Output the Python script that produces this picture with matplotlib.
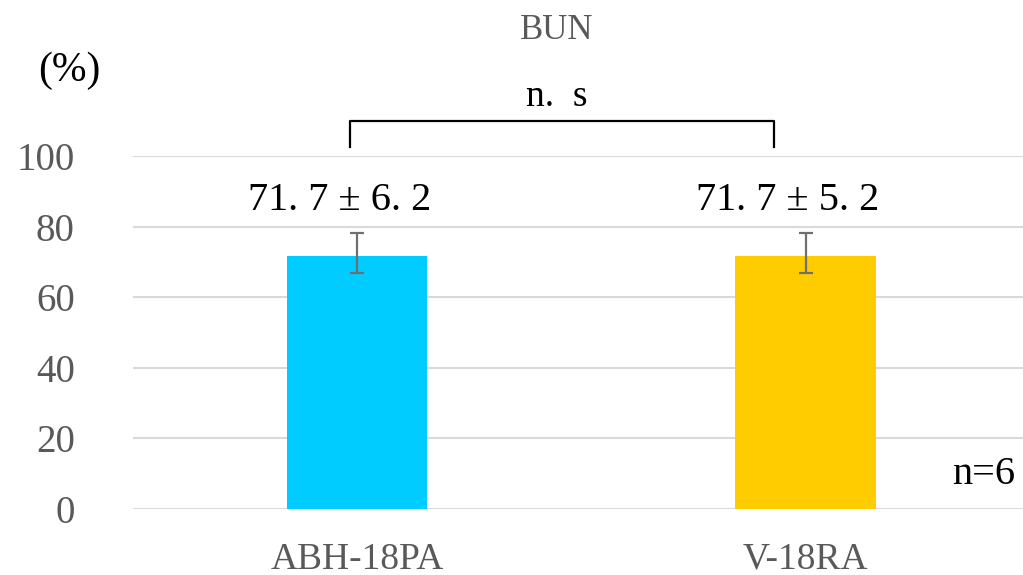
import matplotlib
matplotlib.use("Agg")
import matplotlib.pyplot as plt

# data
groups = ["ABH-18PA", "V-18RA"]
means = [71.7, 71.7]
err_low = [4.9, 4.9]
err_high = [6.4, 6.4]
value_labels = ["71. 7 \u00b1 6. 2", "71. 7 \u00b1 5. 2"]
bar_colors = ["#00CCFF", "#FFCC00"]
yticks = [0, 20, 40, 60, 80, 100]

serif = ["Liberation Serif", "DejaVu Serif"]
plt.rcParams["font.family"] = serif

fig = plt.figure(figsize=(10.23, 5.75), dpi=100)
ax = fig.add_axes([0.13, 0.1148, 0.87, 0.6139])

x = list(range(len(groups)))
ax.bar(x, means, width=0.3125, color=bar_colors, zorder=2)
ax.errorbar(x, means, yerr=[err_low, err_high], fmt="none",
            ecolor="#6f6f6f", elinewidth=1.6, capsize=5, capthick=1.6, zorder=3)

# labels sit a little left of the bar centres in the original
for xi, lab in zip(x, value_labels):
    ax.text(xi - 0.04, 84.6, lab, ha="center", va="baseline", fontsize=29,
            color="black")

ax.set_xlim(-0.5, 1.485)
ax.set_ylim(0, 100)
ax.set_yticks(yticks)
ax.set_xticks(x)
ax.set_xticklabels(groups)
ax.tick_params(axis="y", length=0, pad=42, labelsize=28, labelcolor="#595959")
ax.tick_params(axis="x", length=0, pad=24, labelsize=27, labelcolor="#595959")
ax.grid(axis="y", color="#d9d9d9", linewidth=1.5, zorder=0)
for s in ax.spines.values():
    s.set_visible(False)

# significance bracket
ax.plot([-0.015, -0.015, 0.93, 0.93], [102.5, 109.8, 109.8, 102.5],
        color="black", linewidth=1.6, clip_on=False,
        solid_joinstyle="round")
ax.text(0.445, 112, "n.  s", ha="center", va="bottom", fontsize=27, color="black")

fig.text(0.544, 0.947, "BUN", ha="center", va="center", fontsize=25,
         color="#595959")
fig.text(0.068, 0.877, "(%)", ha="center", va="center", fontsize=30,
         color="black")
fig.text(0.992, 0.175, "n=6", ha="right", va="center", fontsize=29,
         color="black")

fig.savefig("out.png", dpi=100)
